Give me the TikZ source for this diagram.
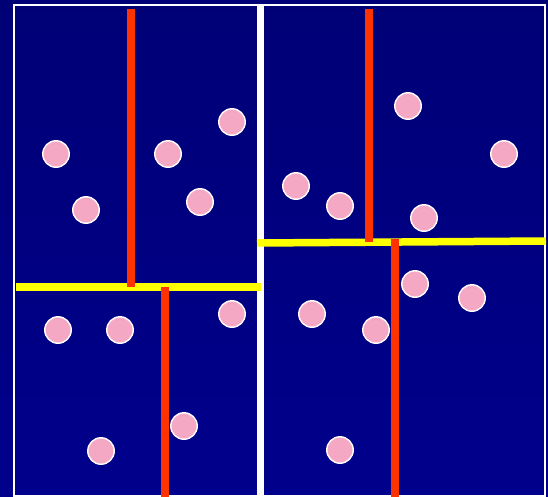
\documentclass[tikz,border=0pt]{standalone}
\usetikzlibrary{calc}
\definecolor{bgtop}{RGB}{0,0,118}
\definecolor{bgbottom}{RGB}{0,0,140}
\definecolor{splitred}{RGB}{255,51,0}
\definecolor{splityellow}{RGB}{255,255,0}
\definecolor{pointpink}{RGB}{245,168,196}

\begin{document}
\begin{tikzpicture}[
  x=1pt, y=-1pt,
  frameline/.style={draw=white, line width=1.5pt},
  divider/.style={draw=white, line width=7pt},
  yellowsplit/.style={draw=splityellow, line width=7.5pt},
  redsplit/.style={draw=splitred, line width=8pt},
  datapoint/.style={circle, fill=pointpink, draw=white, line width=1.4pt,
                    minimum size=26.5pt, inner sep=0pt}
]
\useasboundingbox (0,0) rectangle (548,497);

% ===== Background and frame =====
\shade[top color=bgtop, bottom color=bgbottom] (0,0) rectangle (548,497);
\draw[frameline] (14,5) rectangle (545,496);
\draw[divider] (260.5,5) -- (260.5,497);

% ===== Horizontal splits =====
\draw[yellowsplit] (16,287) -- (261,287);
\draw[yellowsplit] (257,243) -- (546,241);

% ===== Vertical splits =====
\draw[redsplit] (131,9) -- (131,287);
\draw[redsplit] (165,287) -- (165,497);
\draw[redsplit] (369,9) -- (369,242);
\draw[redsplit] (395,239) -- (395,497);

% ===== Data points =====
\foreach \px/\py [count=\i] in {56/154, 86/210, 168/154, 200/202, 232/122,
    58/330, 120/330, 232/314, 184/426, 101/451,
    408/106, 504/154, 296/186, 340/206, 424/218,
    415/284, 472/298, 312/314, 376/330, 340/450}
  \node[datapoint] (p\i) at (\px,\py) {};

\end{tikzpicture}
\end{document}
